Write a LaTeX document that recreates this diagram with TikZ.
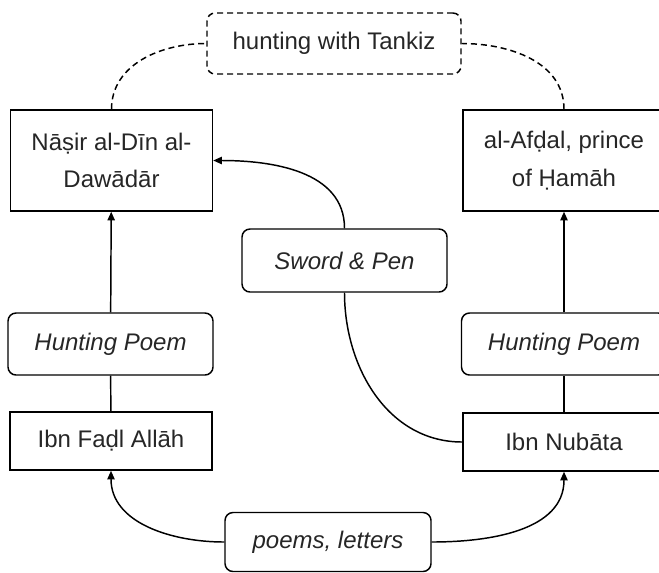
\documentclass[tikz,border=0pt]{standalone}
\usepackage{fontspec}
\setmainfont{Liberation Sans}
\usetikzlibrary{arrows.meta}

\begin{document}
\begin{tikzpicture}[x=0.75pt,y=0.75pt,yscale=-1,xscale=1,
	every node/.style={font=\fontsize{18}{28}\selectfont, inner sep=0.75pt, align=center, text=black!85},
	person/.style={draw, line width=1.1pt, rectangle, minimum width=151.5pt},
	work/.style={draw, line width=1.1pt, rounded corners=6pt, font=\fontsize{18}{28}\selectfont\itshape},
	link/.style={line width=1.1pt},
	arr/.style={-{Triangle[length=6.5pt,width=5.5pt]}}
	]
	%set diagram size: 659 x 572
	\useasboundingbox (0,0) rectangle (659,572);
	
	% Text Node
	\draw (334,43.5) node [work, font=\fontsize{18}{28}\selectfont, dash pattern={on 4.5pt off 3pt}, minimum width=190.5pt, minimum height=45.75pt] (tankiz) {hunting with Tankiz};
	% Text Node
	\draw (111.5,160.5) node [person, minimum height=75.75pt] (nasir) {Nāṣir al-Dīn al-\\Dawādār};
	% Text Node
	\draw (564,160.5) node [person, minimum height=75.75pt] (afdal) {al-Afḍal, prince\\of Ḥamāh};
	% Text Node
	\draw (344.5,260.5) node [work, minimum width=153.75pt, minimum height=47.25pt] (sword) {Sword \& Pen};
	% Text Node
	\draw (110.5,344) node [work, minimum width=153.75pt, minimum height=46.5pt] (hpoemleft) {Hunting Poem};
	% Text Node
	\draw (564,344) node [work, minimum width=153.75pt, minimum height=46.5pt] (hpoemright) {Hunting Poem};
	% Text Node
	\draw (111,441) node [person, minimum height=43.5pt] (fadl) {Ibn Faḍl Allāh};
	% Text Node
	\draw (564,442) node [person, minimum height=43.5pt] (nubata) {Ibn Nubāta};
	% Text Node
	\draw (328,542) node [work, minimum width=154.5pt, minimum height=44.25pt] (letters) {poems, letters};
	
	%Curve Lines
	\draw [link, dash pattern={on 4.5pt off 3pt}] (nasir.north) to[out=270,in=180] (tankiz.west);
	%Curve Lines
	\draw [link, dash pattern={on 4.5pt off 3pt}] (afdal.north) to[out=270,in=0] (tankiz.east);
	%Straight Lines
	\draw [link, arr] (hpoemleft) -- (nasir);
	\draw [link] (fadl) -- (hpoemleft);
	%Straight Lines
	\draw [link, arr] (hpoemright) -- (afdal);
	\draw [link] (nubata) -- (hpoemright);
	%Curve Lines
	\draw [link, arr] (sword.north) to[out=270,in=0] (nasir.east);
	\draw [link] (nubata.west) to[out=180,in=90] (sword.south);
	%Curve Lines
	\draw [link, arr] (letters.west) to[out=180,in=90] (fadl.south);
	\draw [link, arr] (letters.east) to[out=0,in=90] (nubata.south);
	
\end{tikzpicture}
\end{document}
